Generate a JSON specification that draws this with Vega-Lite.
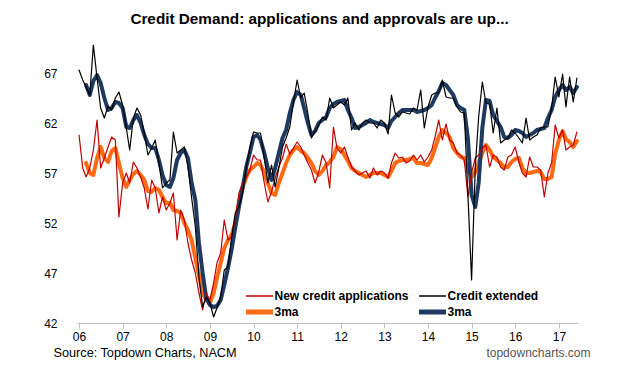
{
  "$schema": "https://vega.github.io/schema/vega-lite/v6.json",
  "width": 501,
  "height": 280,
  "autosize": {"type": "none"},
  "padding": {"left": 77, "top": 43, "right": 57, "bottom": 54},
  "background": "white",
  "config": {"view": {"stroke": null}, "font": "Liberation Sans"},
  "title": {"text": "Credit Demand: applications and approvals are up...", "fontSize": 15.3, "fontWeight": "bold", "font": "Liberation Sans", "color": "#000000", "anchor": "middle", "dx": -8, "offset": 16},
  "data": {"values": [
    {"d":"2006/01/01","a":60.8,"am":null,"c":67.3,"cm":null},
    {"d":"2006/02/01","a":57.5,"am":null,"c":66.3,"cm":null},
    {"d":"2006/03/01","a":56.6,"am":58.0,"c":65.6,"cm":65.8},
    {"d":"2006/04/01","a":57.5,"am":57.0,"c":64.8,"cm":64.8},
    {"d":"2006/05/01","a":59.3,"am":56.8,"c":69.8,"cm":66.2},
    {"d":"2006/06/01","a":62.3,"am":58.5,"c":66.5,"cm":66.8},
    {"d":"2006/07/01","a":57.5,"am":59.6,"c":63.5,"cm":66.0},
    {"d":"2006/08/01","a":58.5,"am":58.5,"c":62.5,"cm":64.5},
    {"d":"2006/09/01","a":59.6,"am":58.1,"c":63.7,"cm":63.3},
    {"d":"2006/10/01","a":60.6,"am":59.2,"c":63.3,"cm":63.5},
    {"d":"2006/11/01","a":60.3,"am":59.5,"c":64.5,"cm":64.1},
    {"d":"2006/12/01","a":52.6,"am":58.0,"c":65.1,"cm":64.0},
    {"d":"2007/01/01","a":56.0,"am":56.5,"c":63.8,"cm":63.5},
    {"d":"2007/02/01","a":57.0,"am":55.6,"c":61.5,"cm":61.6},
    {"d":"2007/03/01","a":56.0,"am":56.3,"c":59.3,"cm":61.5},
    {"d":"2007/04/01","a":58.1,"am":56.9,"c":62.5,"cm":62.3},
    {"d":"2007/05/01","a":57.5,"am":57.2,"c":63.5,"cm":62.8},
    {"d":"2007/06/01","a":56.6,"am":56.8,"c":62.8,"cm":62.0},
    {"d":"2007/07/01","a":55.5,"am":56.3,"c":61.0,"cm":60.8},
    {"d":"2007/08/01","a":53.4,"am":55.2,"c":58.8,"cm":59.9},
    {"d":"2007/09/01","a":56.3,"am":55.1,"c":59.5,"cm":59.5},
    {"d":"2007/10/01","a":55.5,"am":55.5,"c":60.3,"cm":59.5},
    {"d":"2007/11/01","a":53.0,"am":55.3,"c":58.0,"cm":58.3},
    {"d":"2007/12/01","a":54.6,"am":54.6,"c":55.5,"cm":56.8},
    {"d":"2008/01/01","a":53.3,"am":54.0,"c":56.0,"cm":55.8},
    {"d":"2008/02/01","a":54.0,"am":54.0,"c":56.3,"cm":55.6},
    {"d":"2008/03/01","a":55.0,"am":53.3,"c":61.1,"cm":56.5},
    {"d":"2008/04/01","a":50.3,"am":53.2,"c":59.0,"cm":58.3},
    {"d":"2008/05/01","a":53.3,"am":53.0,"c":59.3,"cm":59.0},
    {"d":"2008/06/01","a":52.3,"am":52.0,"c":59.6,"cm":59.3},
    {"d":"2008/07/01","a":50.0,"am":51.3,"c":57.6,"cm":58.5},
    {"d":"2008/08/01","a":48.3,"am":50.3,"c":54.5,"cm":56.0},
    {"d":"2008/09/01","a":47.0,"am":48.5,"c":51.6,"cm":54.3},
    {"d":"2008/10/01","a":45.0,"am":46.8,"c":46.6,"cm":50.0},
    {"d":"2008/11/01","a":43.3,"am":45.0,"c":43.6,"cm":47.0},
    {"d":"2008/12/01","a":45.0,"am":44.3,"c":44.6,"cm":44.5},
    {"d":"2009/01/01","a":44.3,"am":44.0,"c":44.0,"cm":43.8},
    {"d":"2009/02/01","a":46.0,"am":45.0,"c":42.6,"cm":43.6},
    {"d":"2009/03/01","a":48.0,"am":46.5,"c":43.5,"cm":43.7},
    {"d":"2009/04/01","a":49.0,"am":48.0,"c":44.6,"cm":44.3},
    {"d":"2009/05/01","a":52.3,"am":49.5,"c":47.3,"cm":45.8},
    {"d":"2009/06/01","a":50.3,"am":50.3,"c":47.6,"cm":47.5},
    {"d":"2009/07/01","a":50.6,"am":50.8,"c":50.5,"cm":49.3},
    {"d":"2009/08/01","a":52.5,"am":52.0,"c":53.0,"cm":51.5},
    {"d":"2009/09/01","a":55.0,"am":54.0,"c":53.6,"cm":53.6},
    {"d":"2009/10/01","a":56.0,"am":55.5,"c":55.0,"cm":55.5},
    {"d":"2009/11/01","a":56.5,"am":56.6,"c":57.5,"cm":57.6},
    {"d":"2009/12/01","a":57.3,"am":57.3,"c":59.5,"cm":59.0},
    {"d":"2010/01/01","a":58.8,"am":57.6,"c":61.1,"cm":60.6},
    {"d":"2010/02/01","a":58.3,"am":58.0,"c":61.0,"cm":60.8},
    {"d":"2010/03/01","a":58.3,"am":57.8,"c":61.0,"cm":60.3},
    {"d":"2010/04/01","a":56.0,"am":57.0,"c":58.5,"cm":59.0},
    {"d":"2010/05/01","a":54.1,"am":56.0,"c":56.0,"cm":57.5},
    {"d":"2010/06/01","a":55.1,"am":55.0,"c":57.8,"cm":56.3},
    {"d":"2010/07/01","a":56.5,"am":54.8,"c":55.6,"cm":57.5},
    {"d":"2010/08/01","a":57.6,"am":56.0,"c":57.5,"cm":59.0},
    {"d":"2010/09/01","a":58.5,"am":57.0,"c":59.6,"cm":60.5},
    {"d":"2010/10/01","a":59.9,"am":58.0,"c":60.5,"cm":61.3},
    {"d":"2010/11/01","a":58.9,"am":58.8,"c":61.6,"cm":63.0},
    {"d":"2010/12/01","a":59.5,"am":59.3,"c":64.0,"cm":64.3},
    {"d":"2011/01/01","a":60.1,"am":59.6,"c":66.3,"cm":65.1},
    {"d":"2011/02/01","a":59.6,"am":59.2,"c":64.5,"cm":64.8},
    {"d":"2011/03/01","a":58.8,"am":59.0,"c":65.0,"cm":63.5},
    {"d":"2011/04/01","a":58.0,"am":58.5,"c":63.0,"cm":62.0},
    {"d":"2011/05/01","a":57.3,"am":58.0,"c":60.5,"cm":60.8},
    {"d":"2011/06/01","a":56.0,"am":57.2,"c":61.2,"cm":61.2},
    {"d":"2011/07/01","a":57.1,"am":56.8,"c":61.8,"cm":62.0},
    {"d":"2011/08/01","a":58.8,"am":57.2,"c":62.6,"cm":62.3},
    {"d":"2011/09/01","a":58.0,"am":57.8,"c":62.3,"cm":62.6},
    {"d":"2011/10/01","a":55.5,"am":58.1,"c":64.5,"cm":63.5},
    {"d":"2011/11/01","a":61.6,"am":58.6,"c":63.5,"cm":63.9},
    {"d":"2011/12/01","a":59.5,"am":59.6,"c":63.8,"cm":64.1},
    {"d":"2012/01/01","a":59.0,"am":59.4,"c":64.1,"cm":64.2},
    {"d":"2012/02/01","a":59.6,"am":58.8,"c":63.8,"cm":64.3},
    {"d":"2012/03/01","a":58.6,"am":58.2,"c":64.5,"cm":63.3},
    {"d":"2012/04/01","a":57.6,"am":57.5,"c":61.3,"cm":62.5},
    {"d":"2012/05/01","a":57.2,"am":57.2,"c":62.0,"cm":61.5},
    {"d":"2012/06/01","a":56.8,"am":57.0,"c":61.3,"cm":61.6},
    {"d":"2012/07/01","a":57.0,"am":56.8,"c":62.0,"cm":61.8},
    {"d":"2012/08/01","a":57.2,"am":56.6,"c":62.3,"cm":62.0},
    {"d":"2012/09/01","a":56.5,"am":56.8,"c":62.0,"cm":62.3},
    {"d":"2012/10/01","a":57.5,"am":57.0,"c":62.0,"cm":62.1},
    {"d":"2012/11/01","a":56.8,"am":57.0,"c":61.5,"cm":62.0},
    {"d":"2012/12/01","a":57.2,"am":57.0,"c":62.3,"cm":61.9},
    {"d":"2013/01/01","a":57.0,"am":56.8,"c":62.0,"cm":61.8},
    {"d":"2013/02/01","a":56.5,"am":56.6,"c":60.9,"cm":61.5},
    {"d":"2013/03/01","a":58.0,"am":57.2,"c":64.8,"cm":62.2},
    {"d":"2013/04/01","a":59.0,"am":58.0,"c":63.0,"cm":62.6},
    {"d":"2013/05/01","a":58.5,"am":58.2,"c":62.6,"cm":63.0},
    {"d":"2013/06/01","a":58.6,"am":58.3,"c":63.1,"cm":63.3},
    {"d":"2013/07/01","a":58.0,"am":58.3,"c":63.0,"cm":63.3},
    {"d":"2013/08/01","a":58.2,"am":58.4,"c":62.9,"cm":63.3},
    {"d":"2013/09/01","a":58.8,"am":58.5,"c":63.5,"cm":63.3},
    {"d":"2013/10/01","a":58.3,"am":58.0,"c":63.3,"cm":63.1},
    {"d":"2013/11/01","a":58.8,"am":58.0,"c":65.3,"cm":63.2},
    {"d":"2013/12/01","a":58.1,"am":57.9,"c":61.5,"cm":63.3},
    {"d":"2014/01/01","a":58.6,"am":57.8,"c":63.6,"cm":63.5},
    {"d":"2014/02/01","a":59.3,"am":58.5,"c":64.8,"cm":63.8},
    {"d":"2014/03/01","a":60.6,"am":59.5,"c":65.0,"cm":64.5},
    {"d":"2014/04/01","a":62.3,"am":60.6,"c":65.0,"cm":65.2},
    {"d":"2014/05/01","a":60.3,"am":61.3,"c":66.3,"cm":66.0},
    {"d":"2014/06/01","a":61.9,"am":61.0,"c":64.6,"cm":65.8},
    {"d":"2014/07/01","a":60.3,"am":60.6,"c":64.5,"cm":65.3},
    {"d":"2014/08/01","a":60.0,"am":59.5,"c":64.5,"cm":64.8},
    {"d":"2014/09/01","a":59.0,"am":59.0,"c":63.6,"cm":63.8},
    {"d":"2014/10/01","a":58.8,"am":58.6,"c":63.1,"cm":63.5},
    {"d":"2014/11/01","a":58.3,"am":58.5,"c":63.0,"cm":63.3},
    {"d":"2014/12/01","a":54.6,"am":57.3,"c":54.9,"cm":60.5},
    {"d":"2015/01/01","a":57.0,"am":56.6,"c":46.3,"cm":54.8},
    {"d":"2015/02/01","a":58.5,"am":57.1,"c":57.6,"cm":53.6},
    {"d":"2015/03/01","a":58.8,"am":58.0,"c":62.6,"cm":56.0},
    {"d":"2015/04/01","a":59.5,"am":59.0,"c":66.1,"cm":61.5},
    {"d":"2015/05/01","a":59.8,"am":59.8,"c":64.0,"cm":64.3},
    {"d":"2015/06/01","a":57.6,"am":59.3,"c":63.9,"cm":64.2},
    {"d":"2015/07/01","a":58.8,"am":58.6,"c":61.0,"cm":62.8},
    {"d":"2015/08/01","a":58.6,"am":58.3,"c":63.5,"cm":62.2},
    {"d":"2015/09/01","a":57.6,"am":58.0,"c":60.0,"cm":61.6},
    {"d":"2015/10/01","a":57.3,"am":57.6,"c":60.3,"cm":60.6},
    {"d":"2015/11/01","a":58.6,"am":57.6,"c":60.5,"cm":60.5},
    {"d":"2015/12/01","a":58.8,"am":58.1,"c":61.3,"cm":60.8},
    {"d":"2016/01/01","a":59.6,"am":58.4,"c":61.0,"cm":61.3},
    {"d":"2016/02/01","a":58.1,"am":58.5,"c":60.5,"cm":61.2},
    {"d":"2016/03/01","a":57.0,"am":57.5,"c":60.0,"cm":61.0},
    {"d":"2016/04/01","a":56.6,"am":57.0,"c":62.5,"cm":60.6},
    {"d":"2016/05/01","a":58.6,"am":57.0,"c":60.3,"cm":60.8},
    {"d":"2016/06/01","a":57.6,"am":57.1,"c":60.6,"cm":61.0},
    {"d":"2016/07/01","a":57.6,"am":57.2,"c":60.8,"cm":61.3},
    {"d":"2016/08/01","a":57.3,"am":57.1,"c":61.5,"cm":61.4},
    {"d":"2016/09/01","a":54.6,"am":56.4,"c":61.6,"cm":61.5},
    {"d":"2016/10/01","a":57.0,"am":56.4,"c":61.6,"cm":62.5},
    {"d":"2016/11/01","a":58.0,"am":56.6,"c":63.5,"cm":63.3},
    {"d":"2016/12/01","a":61.8,"am":58.9,"c":66.6,"cm":64.6},
    {"d":"2017/01/01","a":60.5,"am":60.3,"c":64.6,"cm":65.3},
    {"d":"2017/02/01","a":61.3,"am":61.2,"c":66.9,"cm":65.8},
    {"d":"2017/03/01","a":59.3,"am":60.4,"c":63.6,"cm":65.3},
    {"d":"2017/04/01","a":59.6,"am":60.1,"c":66.6,"cm":65.6},
    {"d":"2017/05/01","a":59.8,"am":59.6,"c":64.1,"cm":65.0},
    {"d":"2017/06/01","a":61.1,"am":60.2,"c":66.5,"cm":65.6}
  ]},
  "transform": [{"fold": ["am", "cm", "a", "c"], "as": ["series", "value"]}],
  "mark": {"type": "line", "interpolate": "linear", "strokeJoin": "round", "strokeCap": "round"},
  "encoding": {
    "x": {
      "field": "d", "type": "temporal",
      "scale": {"domain": [{"year": 2005, "month": 12, "date": 15}, {"year": 2017, "month": 6, "date": 10}]},
      "axis": {
        "format": "%y", "tickCount": {"interval": "year", "step": 1},
        "labelFont": "Liberation Sans", "labelFontSize": 12, "labelColor": "#000000",
        "labelFlush": false, "labelOverlap": false, "labelPadding": 3,
        "domainColor": "#BFBFBF", "tickColor": "#BFBFBF", "tickSize": 5, "grid": false,
        "title": "topdowncharts.com", "titleX": 513, "titleY": 29, "titleAlign": "right", "titleBaseline": "middle",
        "titleFont": "Liberation Sans", "titleFontSize": 12, "titleFontWeight": "normal", "titleColor": "#555555"
      }
    },
    "y": {
      "field": "value", "type": "quantitative",
      "scale": {"domain": [42, 70], "nice": false, "zero": false},
      "axis": {
        "values": [42, 47, 52, 57, 62, 67],
        "domain": false, "ticks": false, "tickSize": 0, "grid": false, "labelPadding": 20,
        "labelFont": "Liberation Sans", "labelFontSize": 12, "labelColor": "#000000",
        "title": "Source: Topdown Charts, NACM", "titleAngle": 0, "titleX": -24, "titleY": 309,
        "titleAlign": "left", "titleBaseline": "middle",
        "titleFont": "Liberation Sans", "titleFontSize": 12.7, "titleFontWeight": "normal", "titleColor": "#000000"
      }
    },
    "color": {
      "field": "series", "type": "nominal",
      "scale": {"domain": ["a", "c", "am", "cm"], "range": ["#C00000", "#000000", "#FF6A13", "#1F3A60"]},
      "legend": {
        "orient": "none", "legendX": 168, "legendY": 247, "columns": 2, "direction": "horizontal", "title": null,
        "symbolType": "stroke", "symbolSize": 729, "symbolOffset": 8.5, "labelFont": "Liberation Sans", "labelFontSize": 12,
        "labelFontWeight": "bold", "labelColor": "#000000", "columnPadding": 0, "rowPadding": 0, "labelOffset": 9,
        "labelExpr": "datum.label == 'a' ? 'New credit applications' : datum.label == 'c' ? 'Credit extended' : '3ma'",
        "encode": {"symbols": {"update": {"strokeWidth": {"signal": "datum.value == 'am' || datum.value == 'cm' ? 5 : 1.5"}}}}
      }
    },
    "strokeWidth": {
      "condition": {"test": "datum.series == 'am' || datum.series == 'cm'", "value": 4},
      "value": 1.2
    }
  }
}
